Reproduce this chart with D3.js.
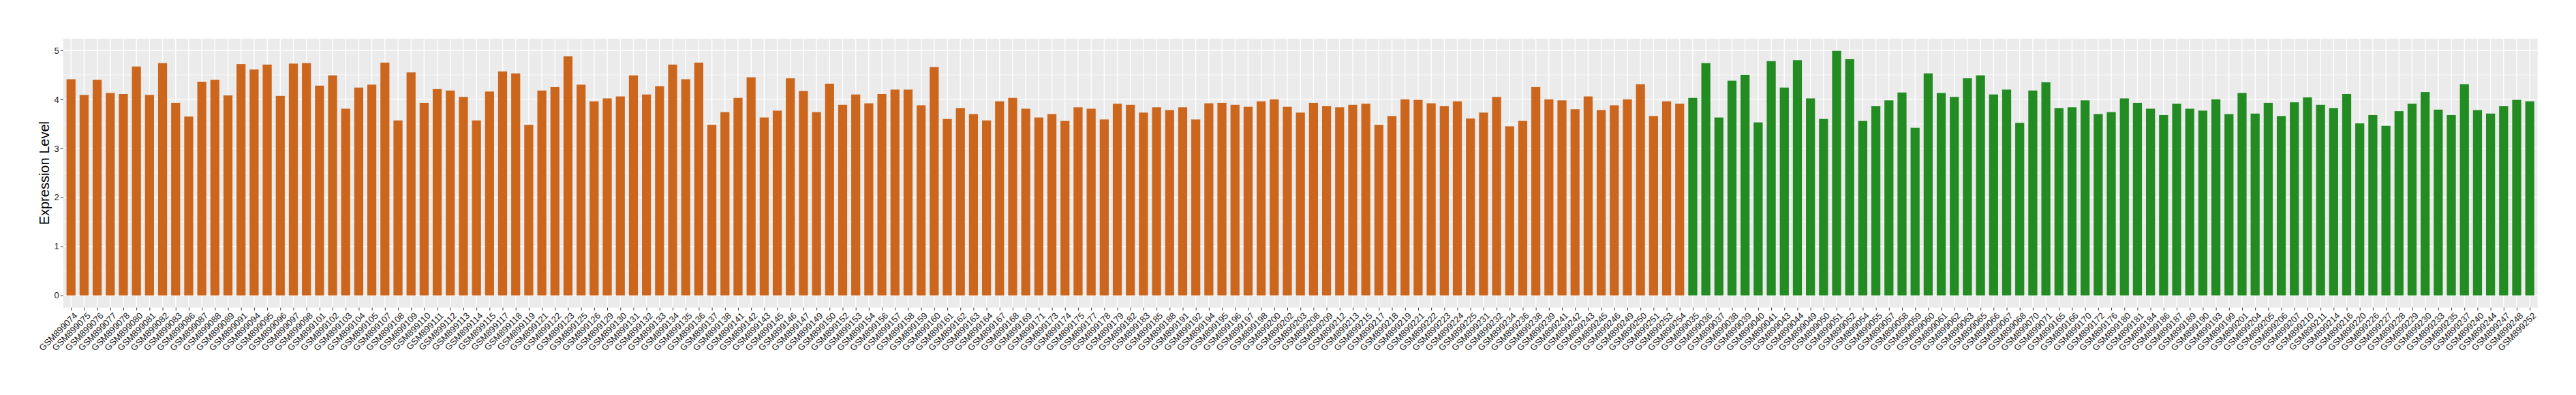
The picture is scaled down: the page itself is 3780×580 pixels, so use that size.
<!DOCTYPE html>
<html>
<head>
<meta charset="utf-8">
<script src="https://cdn.jsdelivr.net/npm/d3@7"></script>
<style>
  html, body { margin: 0; padding: 0; background: #ffffff; }
  svg { display: block; font-family: "Liberation Sans", Arial, Helvetica, sans-serif; }
</style>
</head>
<body>
<svg id="chart" width="3780" height="580"></svg>
<script>
// ---------- data ----------
const samplesOrange = ["GSM899074","GSM899075","GSM899076","GSM899077","GSM899078","GSM899080","GSM899081","GSM899082","GSM899083","GSM899086",
"GSM899087","GSM899088","GSM899089","GSM899091","GSM899094","GSM899095","GSM899096","GSM899097","GSM899098","GSM899101",
"GSM899102","GSM899103","GSM899104","GSM899105","GSM899107","GSM899108","GSM899109","GSM899110","GSM899111","GSM899112",
"GSM899113","GSM899114","GSM899115","GSM899117","GSM899118","GSM899119","GSM899121","GSM899122","GSM899123","GSM899125",
"GSM899126","GSM899129","GSM899130","GSM899131","GSM899132","GSM899133","GSM899134","GSM899135","GSM899136","GSM899137",
"GSM899138","GSM899141","GSM899142","GSM899143","GSM899145","GSM899146","GSM899147","GSM899149","GSM899150","GSM899152",
"GSM899153","GSM899154","GSM899156","GSM899157","GSM899158","GSM899159","GSM899160","GSM899161","GSM899162","GSM899163",
"GSM899164","GSM899167","GSM899168","GSM899169","GSM899171","GSM899173","GSM899174","GSM899175","GSM899177","GSM899178",
"GSM899179","GSM899182","GSM899183","GSM899185","GSM899188","GSM899191","GSM899192","GSM899194","GSM899195","GSM899196",
"GSM899197","GSM899198","GSM899200","GSM899202","GSM899203","GSM899208","GSM899209","GSM899212","GSM899213","GSM899215",
"GSM899217","GSM899218","GSM899219","GSM899221","GSM899222","GSM899223","GSM899224","GSM899225","GSM899231","GSM899232",
"GSM899234","GSM899236","GSM899238","GSM899239","GSM899241","GSM899242","GSM899243","GSM899245","GSM899246","GSM899249",
"GSM899250","GSM899251","GSM899253","GSM899254"];
const valuesOrange = [4.41,4.09,4.40,4.13,4.11,4.67,4.09,4.74,3.93,3.65,
4.36,4.40,4.08,4.72,4.61,4.71,4.07,4.73,4.74,4.28,
4.49,3.81,4.24,4.30,4.75,3.57,4.55,3.93,4.21,4.18,
4.05,3.57,4.16,4.57,4.53,3.48,4.18,4.25,4.88,4.30,
3.96,4.02,4.06,4.49,4.10,4.27,4.71,4.41,4.75,3.48,
3.74,4.03,4.45,3.63,3.77,4.43,4.17,3.74,4.32,3.89,
4.10,3.92,4.11,4.20,4.20,3.88,4.66,3.60,3.82,3.70,
3.57,3.96,4.03,3.81,3.63,3.70,3.56,3.84,3.81,3.59,
3.91,3.89,3.73,3.84,3.78,3.84,3.59,3.92,3.93,3.89,
3.85,3.96,4.00,3.85,3.73,3.93,3.86,3.84,3.89,3.91,
3.48,3.66,4.00,3.99,3.92,3.86,3.96,3.61,3.73,4.05,
3.45,3.56,4.25,4.00,3.98,3.80,4.06,3.78,3.88,4.00,
4.31,3.66,3.96,3.91];

const samplesGreen = ["GSM899035","GSM899036","GSM899037","GSM899038","GSM899039","GSM899040","GSM899041","GSM899043","GSM899044","GSM899049",
"GSM899050","GSM899051","GSM899052","GSM899054","GSM899055","GSM899057","GSM899058","GSM899059","GSM899060","GSM899061",
"GSM899062","GSM899063","GSM899065","GSM899066","GSM899067","GSM899068","GSM899070","GSM899071","GSM899165","GSM899166",
"GSM899170","GSM899172","GSM899176","GSM899180","GSM899181","GSM899184","GSM899186","GSM899187","GSM899189","GSM899190",
"GSM899193","GSM899199","GSM899201","GSM899204","GSM899205","GSM899206","GSM899207","GSM899210","GSM899211","GSM899214",
"GSM899216","GSM899220","GSM899226","GSM899227","GSM899228","GSM899229","GSM899230","GSM899233","GSM899235","GSM899237",
"GSM899240","GSM899244","GSM899247","GSM899248","GSM899252"];
const valuesGreen = [4.03,4.74,3.63,4.38,4.50,3.53,4.78,4.24,4.80,4.02,
3.60,4.99,4.82,3.56,3.86,3.98,4.14,3.42,4.53,4.13,
4.05,4.43,4.49,4.10,4.20,3.52,4.18,4.35,3.82,3.84,
3.98,3.70,3.74,4.02,3.93,3.81,3.68,3.91,3.81,3.77,
4.00,3.70,4.13,3.71,3.93,3.66,3.94,4.04,3.89,3.82,
4.11,3.51,3.68,3.46,3.76,3.91,4.15,3.79,3.68,4.31,
3.78,3.71,3.86,3.99,3.96];

const groupColors = ["#CD661D", "#228B22"];
const yTicks = [0, 1, 2, 3, 4, 5];
const yTitle = "Expression Level";

// ---------- build ----------
const data = [];
samplesOrange.forEach((s, i) => data.push({sample: s, value: valuesOrange[i], group: 0}));
samplesGreen.forEach((s, i) => data.push({sample: s, value: valuesGreen[i], group: 1}));

const panel = {left: 92.7, right: 3723.7, top: 56.7, bottom: 451.7};
const svg = d3.select("#chart");

const x = d3.scalePoint()
  .domain(data.map(d => d.sample))
  .range([panel.left, panel.right])
  .padding(0.6);
const step = x.step();
const barW = step * 0.69;

const ymax = d3.max(data, d => d.value);
const pad = ymax * 0.05;
const y = d3.scaleLinear().domain([-pad, ymax + pad]).range([panel.bottom, panel.top]);

// panel background
svg.append("rect")
  .attr("x", panel.left).attr("y", panel.top)
  .attr("width", panel.right - panel.left).attr("height", panel.bottom - panel.top)
  .attr("fill", "#EBEBEB");

// minor gridlines
const minor = d3.range(0.5, 5, 1);
svg.append("g").selectAll("line").data(minor).join("line")
  .attr("x1", panel.left).attr("x2", panel.right)
  .attr("y1", d => y(d)).attr("y2", d => y(d))
  .attr("stroke", "#ffffff").attr("stroke-width", 0.7);

// major gridlines
svg.append("g").selectAll("line").data(yTicks).join("line")
  .attr("x1", panel.left).attr("x2", panel.right)
  .attr("y1", d => y(d)).attr("y2", d => y(d))
  .attr("stroke", "#ffffff").attr("stroke-width", 1.4);
svg.append("g").selectAll("line").data(data).join("line")
  .attr("x1", d => x(d.sample)).attr("x2", d => x(d.sample))
  .attr("y1", panel.top).attr("y2", panel.bottom)
  .attr("stroke", "#ffffff").attr("stroke-width", 1.4);

// bars
svg.append("g").selectAll("rect").data(data).join("rect")
  .attr("x", d => x(d.sample) - barW / 2)
  .attr("width", barW)
  .attr("y", d => y(d.value))
  .attr("height", d => y(0) - y(d.value))
  .attr("fill", d => groupColors[d.group]);

// y axis
const yAxis = d3.axisLeft(y).tickValues(yTicks).tickSize(4).tickPadding(2).tickFormat(d3.format("d"));
const gy = svg.append("g").attr("transform", `translate(${panel.left},0)`).call(yAxis);
gy.select(".domain").remove();
gy.selectAll(".tick line").attr("stroke", "#333333").attr("stroke-width", 1);
gy.selectAll(".tick text").attr("fill", "#1a1a1a").attr("font-size", "13px")
  .attr("font-family", "'Liberation Sans', Arial, sans-serif");

// x axis
const xAxis = d3.axisBottom(x).tickSize(4).tickPadding(2);
const gx = svg.append("g").attr("transform", `translate(0,${panel.bottom})`).call(xAxis);
gx.select(".domain").remove();
gx.selectAll(".tick line").attr("stroke", "#333333").attr("stroke-width", 1);
gx.selectAll(".tick text")
  .attr("fill", "#1a1a1a").attr("font-size", "13px")
  .attr("font-family", "'Liberation Sans', Arial, sans-serif")
  .attr("text-anchor", "end")
  .attr("x", 0).attr("y", 0).attr("dy", "0.72em")
  .attr("transform", "translate(3,6) rotate(-45)");

// y title
svg.append("text")
  .attr("transform", `translate(72,${(panel.top + panel.bottom) / 2}) rotate(-90)`)
  .attr("text-anchor", "middle")
  .attr("font-size", "20px")
  .attr("fill", "#000000")
  .text(yTitle);
</script>
</body>
</html>
